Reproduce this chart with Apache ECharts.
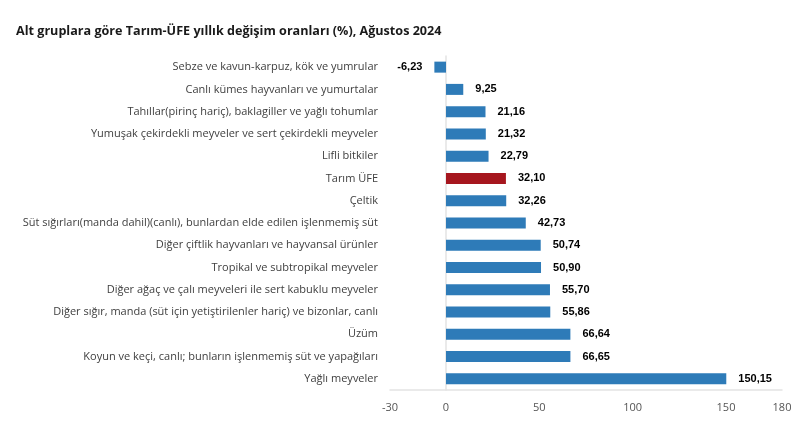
<!DOCTYPE html>
<html><head><meta charset="utf-8">
<script src="https://cdn.jsdelivr.net/npm/echarts@6/dist/echarts.min.js"></script>
<style>html,body{margin:0;padding:0;background:#fff}#c{width:810px;height:431px}</style>
</head><body><div id="c"></div>
<script>
var categories = [
  "Sebze ve kavun-karpuz, kök ve yumrular",
  "Canlı kümes hayvanları ve yumurtalar",
  "Tahıllar(pirinç hariç), baklagiller ve yağlı tohumlar",
  "Yumuşak çekirdekli meyveler ve sert çekirdekli meyveler",
  "Lifli bitkiler",
  "Tarım ÜFE",
  "Çeltik",
  "Süt sığırları(manda dahil)(canlı), bunlardan elde edilen işlenmemiş süt",
  "Diğer çiftlik hayvanları ve hayvansal ürünler",
  "Tropikal ve subtropikal meyveler",
  "Diğer ağaç ve çalı meyveleri ile sert kabuklu meyveler",
  "Diğer sığır, manda (süt için yetiştirilenler hariç) ve bizonlar, canlı",
  "Üzüm",
  "Koyun ve keçi, canlı; bunların işlenmemiş süt ve yapağıları",
  "Yağlı meyveler"
];
var values = [-6.23, 9.25, 21.16, 21.32, 22.79, 32.10, 32.26, 42.73, 50.74, 50.90, 55.70, 55.86, 66.64, 66.65, 150.15];
var xTicks = [-30, 0, 50, 100, 150, 180];
var highlight = "Tarım ÜFE";

var chart = echarts.init(document.getElementById('c'));
var data = values.map(function(v, i){
  var item = {value: v};
  if (categories[i] === highlight) item.itemStyle = {color: '#A6161E'};
  if (v < 0) item.label = {position: 'left'};
  return item;
});
chart.setOption({
  animation: false,
  title: {
    text: 'Alt gruplara göre Tarım-ÜFE yıllık değişim oranları (%), Ağustos 2024',
    left: 11, top: 20,
    textStyle: {fontFamily: 'Open Sans', fontWeight: 'bold', fontSize: 12.6, color: '#1a1a1a'}
  },
  grid: {left: 390, right: 28, top: 56, bottom: 41, containLabel: false},
  xAxis: {
    type: 'value', min: -30, max: 180,
    splitLine: {show: false},
    axisLine: {show: true, lineStyle: {color: '#e3e3e3', width: 1.5}},
    axisTick: {show: false},
    axisLabel: {customValues: xTicks, color: '#555', fontFamily: 'Open Sans', fontSize: 11, margin: 12}
  },
  yAxis: {
    type: 'category', data: categories, inverse: true,
    axisLine: {show: true, lineStyle: {color: '#e3e3e3', width: 1.5}},
    axisTick: {show: false},
    axisLabel: {color: '#404040', fontFamily: 'Open Sans', fontSize: 11, margin: 12}
  },
  series: [{
    type: 'bar', data: data, barWidth: 11,
    itemStyle: {color: '#2E7BB8'},
    label: {
      show: true, position: 'right', distance: 12,
      fontFamily: 'Liberation Sans', fontWeight: 'bold', fontSize: 11, color: '#000',
      formatter: function(p){ return p.value.toFixed(2).replace('.', ','); }
    }
  }]
});
</script></body></html>
